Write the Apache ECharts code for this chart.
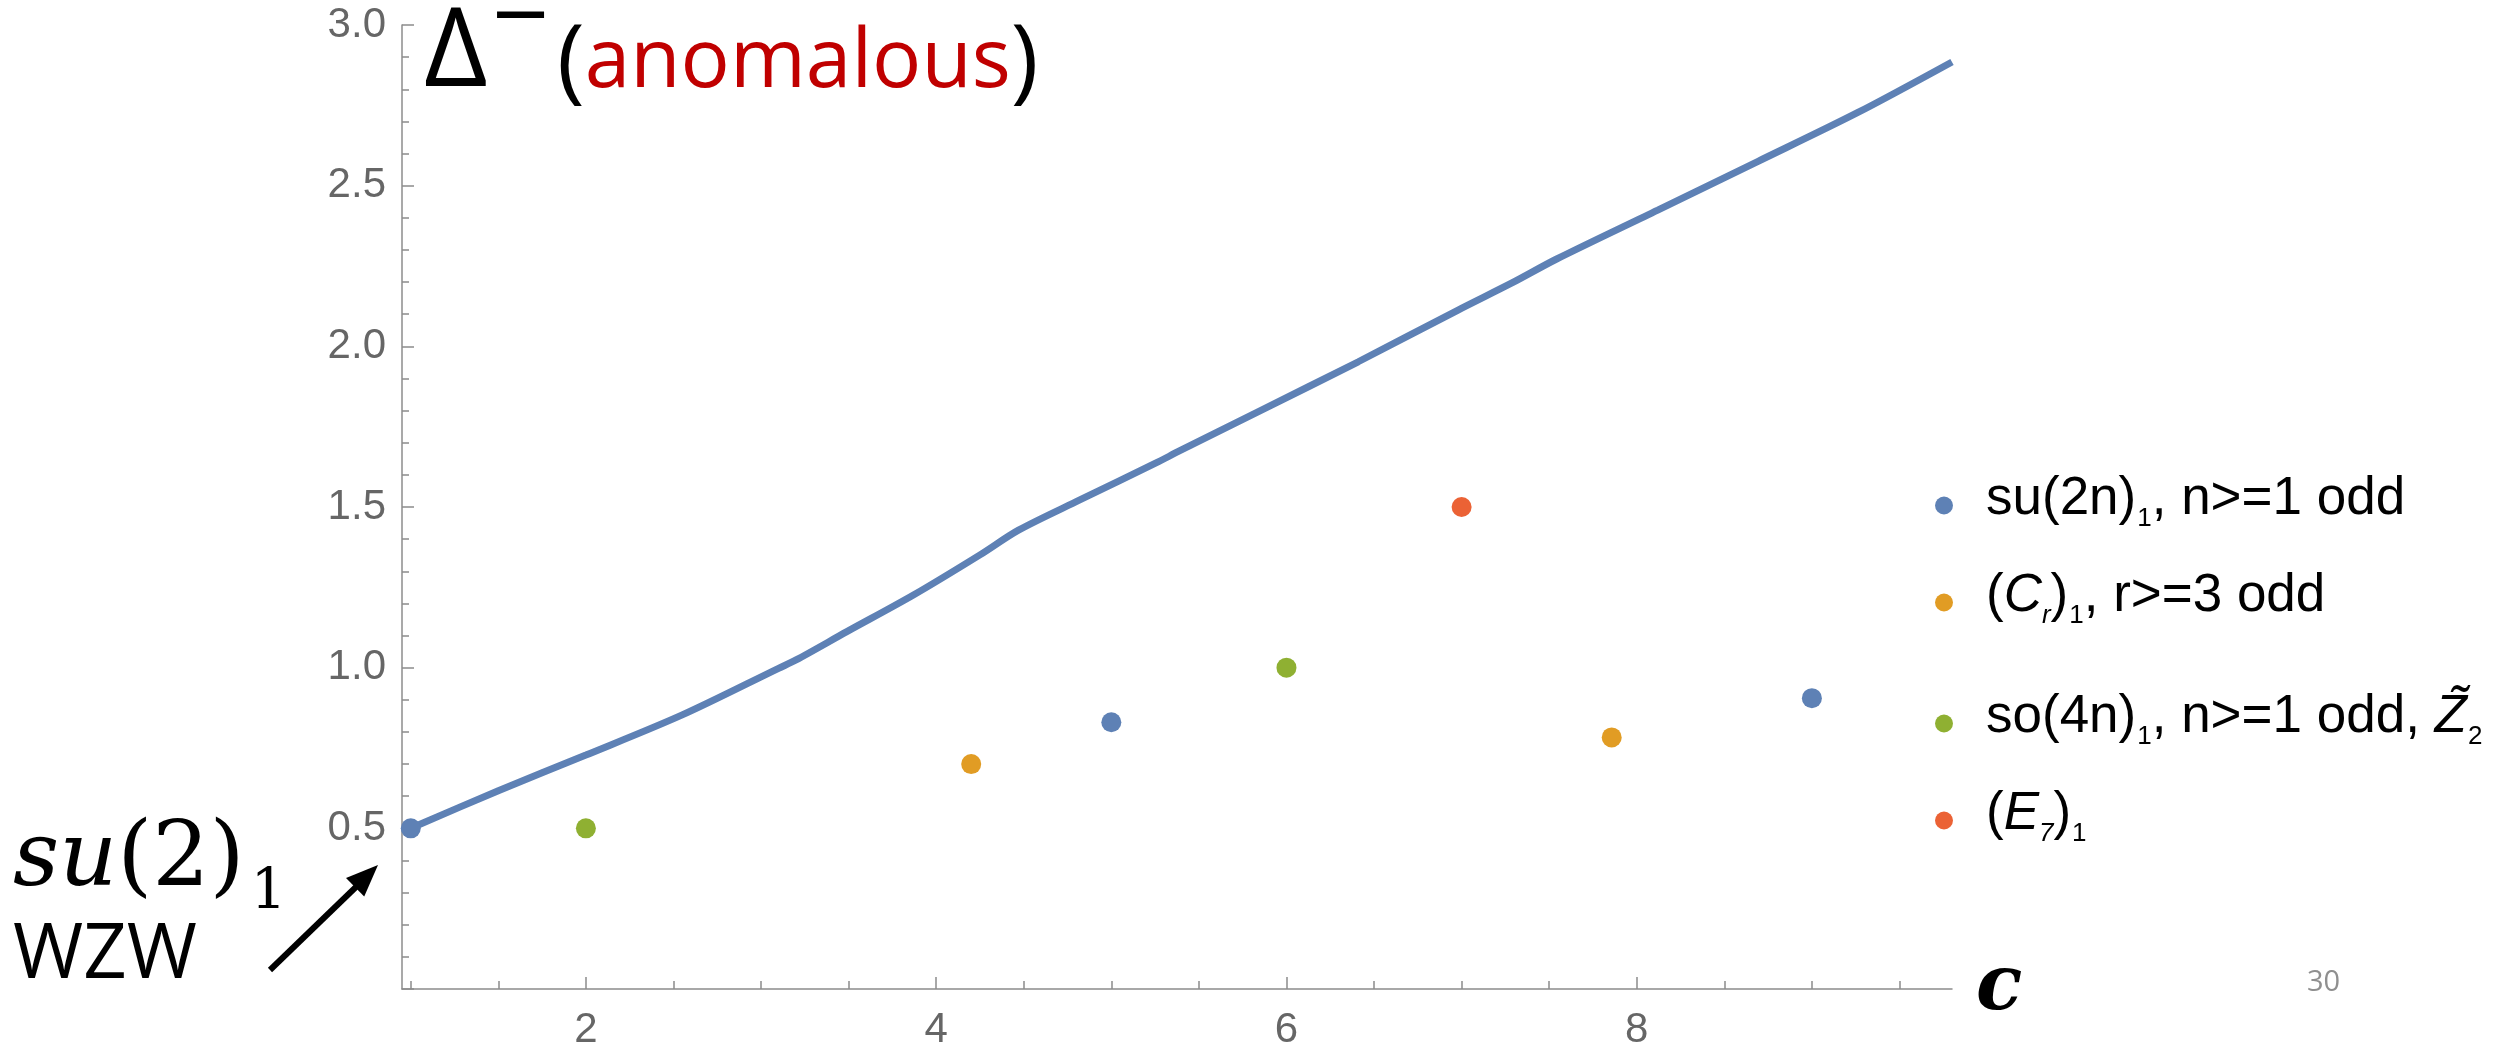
<!DOCTYPE html>
<html><head><meta charset="utf-8">
<script src="https://cdn.jsdelivr.net/npm/echarts@6/dist/echarts.min.js"></script>
<style>html,body{margin:0;padding:0;background:#fff}#c{width:2506px;height:1053px}</style>
</head><body><div id="c"></div>
<script>
// ---- data ----
const curveC = [1.0, 1.5, 2.0, 2.55, 3.1, 3.2, 3.49, 3.87, 4.25, 4.47, 4.82, 5.27, 5.38, 5.84, 6.41, 6.98, 7.29, 7.54, 8.12, 8.69, 9.26, 9.8];
const curveV = [0.5, 0.617, 0.728, 0.853, 0.998, 1.024, 1.112, 1.226, 1.351, 1.428, 1.522, 1.641, 1.672, 1.797, 1.952, 2.113, 2.198, 2.271, 2.424, 2.575, 2.727, 2.885];
const suC = [1, 5, 9];        const suV = [0.5, 0.83, 0.905];
const crC = [4.2, 7.857];     const crV = [0.7, 0.783];
const soC = [2, 6];           const soV = [0.5, 1.0];
const e7C = [7];              const e7V = [1.5];
const xMajorTicks = [2, 4, 6, 8];
const xMinorTicks = [1, 1.5, 2.5, 3, 3.5, 4.5, 5, 5.5, 6.5, 7, 7.5, 8.5, 9, 9.5];
const seriesKeys = ['su', 'cr', 'so', 'e7'];
const legendLabels = {
  su: '{g| }{m|su(2n)}{s|1}{m|, n>=1 odd}',
  cr: '{g| }{m|(}{i|C}{is|r}{m|)}{s|1}{m|, r>=3 odd}',
  so: '{g| }{m|so(4n)}{s|1}{m|, n>=1 odd, }{i|Z\u0303}{s|2}',
  e7: '{g| }{m|(}{i|E}{is|7}{m|)}{s|1}'
};

const zip = (a, b) => a.map((v, i) => [v, b[i]]);
const axisGray = '#8c8c8c';
const labelGray = '#666666';
const colors = { su: '#5E81B5', cr: '#E19C24', so: '#8FB032', e7: '#EB6235' };
const pts = { su: zip(suC, suV), cr: zip(crC, crV), so: zip(soC, soV), e7: zip(e7C, e7V) };

const LF = 'Liberation Sans';
const legendRich = {
  g: { width: 28, fontSize: 10, verticalAlign: 'middle' },
  m: { fontSize: 53, fontFamily: LF, color: '#000', padding: [0, 0, 12, 0], verticalAlign: 'middle' },
  i: { fontSize: 53, fontFamily: LF, fontStyle: 'italic', color: '#000', padding: [0, 0, 12, 0], verticalAlign: 'middle' },
  s: { fontSize: 26, fontFamily: LF, color: '#000', padding: [26, 0, 0, 1], verticalAlign: 'middle' },
  is: { fontSize: 26, fontFamily: LF, fontStyle: 'italic', color: '#000', padding: [26, 0, 0, 0], verticalAlign: 'middle' }
};
const legendTops = [473, 570, 691, 788];
const legends = seriesKeys.map((k, i) => ({
  data: [k], left: 1935, top: legendTops[i], padding: 0, orient: 'vertical',
  icon: 'circle', itemWidth: 18, itemHeight: 18, selectedMode: false,
  formatter: n => legendLabels[n],
  textStyle: { rich: legendRich }
}));

const option = {
  animation: false,
  backgroundColor: '#fff',
  grid: { left: 402, right: 554, top: 25, bottom: 64, containLabel: false },
  legend: legends,
  xAxis: [
    {
      type: 'value', min: 0.95, max: 9.8, position: 'bottom',
      axisLine: { show: true, onZero: false, lineStyle: { color: axisGray, width: 1.5 } },
      axisTick: { show: true, inside: true, length: 12, customValues: xMajorTicks, lineStyle: { color: axisGray, width: 1.5 } },
      axisLabel: { customValues: xMajorTicks, margin: 20, color: labelGray, fontSize: 42, fontFamily: LF },
      splitLine: { show: false },
      name: 'c', nameLocation: 'end', nameGap: 24,
      nameTextStyle: { fontFamily: 'DejaVu Serif', fontStyle: 'italic', fontWeight: 'bold', fontSize: 76, color: '#000', padding: [0, 0, 24, 0] }
    },
    {
      type: 'value', min: 0.95, max: 9.8, position: 'bottom',
      axisLine: { show: false },
      axisTick: { show: true, inside: true, length: 8, customValues: xMinorTicks, lineStyle: { color: axisGray, width: 1.5 } },
      axisLabel: { show: false }, splitLine: { show: false }
    }
  ],
  yAxis: {
    type: 'value', min: 0, max: 3, interval: 0.5,
    axisLine: { show: true, onZero: false, lineStyle: { color: axisGray, width: 1.5 } },
    axisTick: { show: true, inside: true, length: 12, lineStyle: { color: axisGray, width: 1.5 } },
    minorTick: { show: true, splitNumber: 5, length: 7, lineStyle: { color: axisGray, width: 1.5 } },
    axisLabel: { formatter: v => v === 0 ? '' : v.toFixed(1), margin: 16, color: labelGray, fontSize: 42, fontFamily: LF },
    splitLine: { show: false }, minorSplitLine: { show: false }
  },
  series: [
    { name: 'bound', type: 'line', data: zip(curveC, curveV), showSymbol: false, smooth: 0.3,
      lineStyle: { color: colors.su, width: 7 }, z: 2 }
  ].concat(seriesKeys.map(k => ({
    name: k, type: 'scatter', data: pts[k], symbolSize: 20, itemStyle: { color: colors[k], opacity: 1 }, z: 3
  }))),
  graphic: [
    { type: 'text', left: 424, top: 0, style: { text: 'Δ', font: '110px "Open Sans"', fill: '#000' }, z: 10 },
    { type: 'text', left: 492, top: -28, style: { text: '−', font: '100px "Open Sans"', fill: '#000' }, z: 10 },
    { type: 'text', left: 557, top: 17, style: { text: '{p|(}{r|anomalous}{p|)}', rich: {
        p: { fontSize: 94, fontFamily: 'Open Sans', fill: '#000', verticalAlign: 'middle' },
        r: { fontSize: 82, fontFamily: 'Open Sans', fill: '#C00000', verticalAlign: 'middle' } } }, z: 10 },
    { type: 'text', left: 13, top: 817, style: { text: '{i|su}{n|(2)}{s|1}', rich: {
        i: { fontSize: 90, fontFamily: 'DejaVu Serif', fontStyle: 'italic', fill: '#000', verticalAlign: 'middle' },
        n: { fontSize: 90, fontFamily: 'DejaVu Serif', fill: '#000', verticalAlign: 'middle' },
        s: { fontSize: 56, fontFamily: 'DejaVu Serif', fill: '#000', padding: [63, 0, 0, 6], verticalAlign: 'middle' } } }, z: 10 },
    { type: 'text', left: 13, top: 918, style: { text: 'WZW', font: '76px "Open Sans"', fill: '#000' }, z: 10 },
    { type: 'line', shape: { x1: 270, y1: 970, x2: 357, y2: 886 }, style: { stroke: '#000', lineWidth: 6 }, z: 10 },
    { type: 'polygon', shape: { points: [[378, 865], [364.2, 896.6], [346.0, 878.0]] }, style: { fill: '#000' }, z: 10 },
    { type: 'text', left: 2307, top: 968, style: { text: '30', font: '29px "Open Sans"', fill: '#8f8f8f' }, z: 10 }
  ]
};
const chart = echarts.init(document.getElementById('c'));
chart.setOption(option);
</script></body></html>
